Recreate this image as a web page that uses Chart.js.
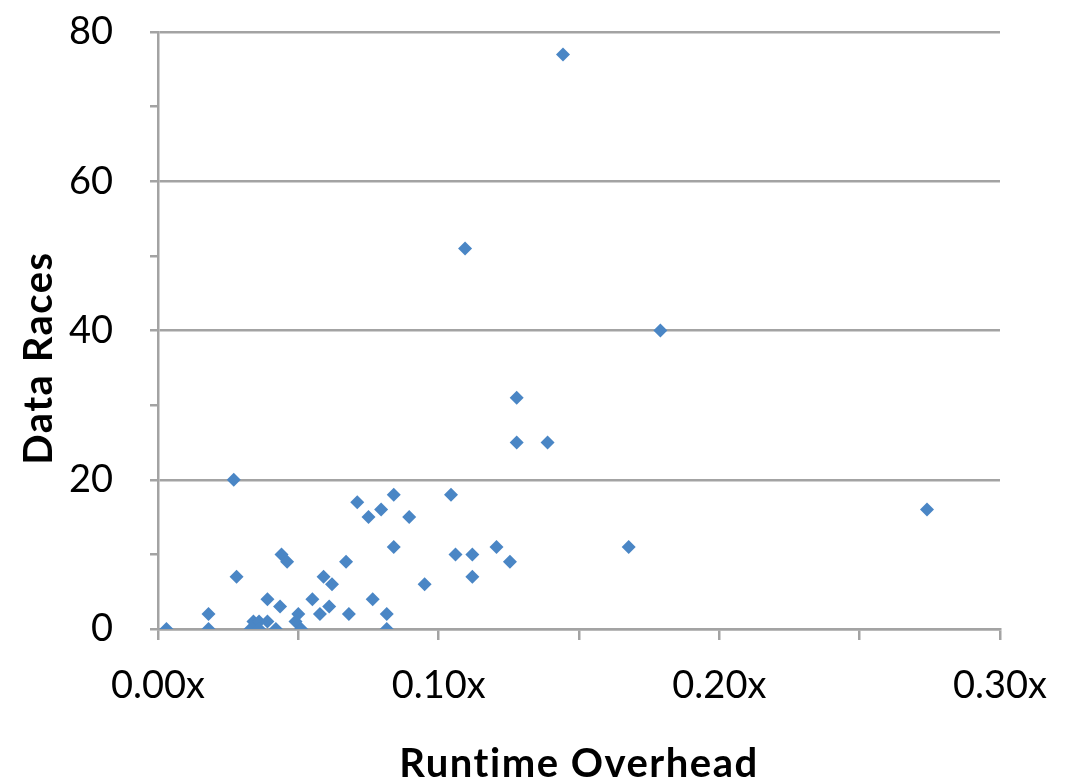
<!DOCTYPE html>
<html>
<head>
<meta charset="utf-8">
<script src="https://cdn.jsdelivr.net/npm/chart.js@4"></script>
<style>
html,body{margin:0;padding:0;background:#fff;}
#wrap{width:1066px;height:777px;}
</style>
</head>
<body>
<div id="wrap"><canvas id="c" width="1066" height="777"></canvas></div>
<script>
// Runtime overhead (x) values
const overhead = [0.003,0.018,0.018,0.027,0.028,0.033,0.034,0.036,0.036,0.039,0.039,0.042,0.0435,0.044,0.046,0.050,0.049,0.051,0.055,0.0577,0.059,0.061,0.062,0.067,0.068,0.071,0.075,0.0765,0.0795,0.0815,0.0815,0.084,0.084,0.0895,0.095,0.1044,0.106,0.1094,0.112,0.112,0.1206,0.1254,0.1278,0.1278,0.1388,0.1443,0.1677,0.179,0.274];
// Data races (y) values
const races = [0,2,0,20,7,0,1,1,0,4,1,0,3,10,9,2,1,0,4,2,7,3,6,9,2,17,15,4,16,2,0,18,11,15,6,18,10,51,10,7,11,9,31,25,25,77,11,40,16];
const xTitle = 'Runtime Overhead';
const yTitle = 'Data Races';
const xMin = 0, xMax = 0.30, xStep = 0.05, xLabelEvery = 0.10;
const yMin = 0, yMax = 80, yStep = 10, yLabelEvery = 20;

const points = overhead.map((x, i) => ({x: x, y: races[i]}));
const gridCol = '#a3a3a3';
const fontFam = 'Lato, "Open Sans", sans-serif';

const titlesPlugin = {
  id: 'axisTitles',
  afterDraw(chart) {
    const ctx = chart.ctx;
    const a = chart.chartArea;
    ctx.save();
    ctx.fillStyle = '#000';
    ctx.font = 'bold 40px ' + fontFam;
    try { ctx.letterSpacing = '1.5px'; } catch (e) {}
    ctx.textAlign = 'center';
    ctx.textBaseline = 'alphabetic';
    ctx.fillText(xTitle, (a.left + a.right) / 2, 777);
    ctx.translate(52, 358);
    ctx.rotate(-Math.PI / 2);
    ctx.fillText(yTitle, 0, 0);
    ctx.restore();
  }
};

new Chart(document.getElementById('c'), {
  type: 'scatter',
  data: {
    datasets: [{
      data: points,
      pointStyle: 'rectRot',
      pointRadius: 7,
      pointHoverRadius: 7,
      backgroundColor: '#4a86c5',
      borderColor: '#4a86c5',
      borderWidth: 0
    }]
  },
  options: {
    responsive: false,
    animation: false,
    events: [],
    layout: {autoPadding: false, padding: {top: 32, right: 66, left: 0, bottom: 0}},
    plugins: {legend: {display: false}, tooltip: {enabled: false}},
    scales: {
      x: {
        type: 'linear',
        min: xMin, max: xMax,
        afterFit(s) { s.height = 148; s.paddingLeft = 0; s.paddingRight = 0; },
        afterBuildTicks(s) {
          const t = [];
          for (let v = xMin; v <= xMax + 1e-9; v += xStep) t.push({value: Math.round(v * 1000) / 1000});
          s.ticks = t;
        },
        ticks: {
          autoSkip: false,
          maxRotation: 0,
          padding: 23,
          color: '#000',
          font: {family: fontFam, size: 38},
          callback(v) {
            const r = Math.round(v * 1000) / 1000;
            return Math.abs(r / xLabelEvery - Math.round(r / xLabelEvery)) < 1e-6 ? r.toFixed(2) + 'x' : '';
          }
        },
        grid: {drawOnChartArea: false, drawTicks: true, tickLength: 11, tickColor: gridCol, lineWidth: 2.5},
        border: {color: gridCol, width: 2.5}
      },
      y: {
        type: 'linear',
        min: yMin, max: yMax,
        afterFit(s) { s.width = 158; s.paddingTop = 0; s.paddingBottom = 0; },
        ticks: {
          stepSize: yStep,
          autoSkip: false,
          padding: 37,
          color: '#000',
          font: {family: fontFam, size: 38},
          callback(v) { return v % yLabelEvery === 0 ? String(v) : ''; }
        },
        grid: {
          drawTicks: true,
          tickLength: 8,
          tickColor: gridCol,
          lineWidth: 2.5,
          color(ctx) { return ctx.tick && ctx.tick.value % yLabelEvery === 0 ? gridCol : 'rgba(0,0,0,0)'; }
        },
        border: {color: gridCol, width: 2.5}
      }
    }
  },
  plugins: [titlesPlugin]
});
</script>
</body>
</html>
